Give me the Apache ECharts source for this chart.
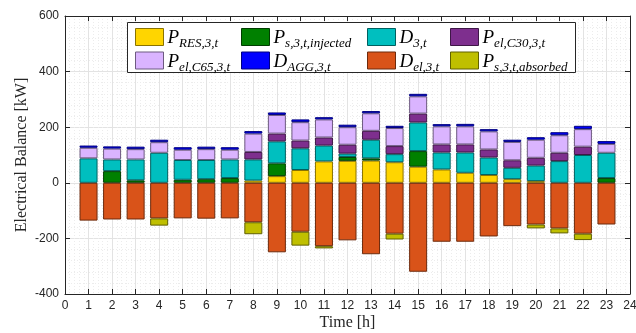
<!DOCTYPE html>
<html>
<head>
<meta charset="utf-8">
<script src="https://cdn.jsdelivr.net/npm/echarts@6/dist/echarts.min.js"></script>
<style>html,body{margin:0;padding:0;background:#fff}#c{width:636px;height:333px}</style>
</head>
<body>
<div id="c"></div>
<script>
const hours = [1,2,3,4,5,6,7,8,9,10,11,12,13,14,15,16,17,18,19,20,21,22,23];
const pRES      = [0,0,0,0,0,0,0,8,24,46,77,79,80,74,58,48,36,28,13,6,0,0,0];
const pSinj     = [0,42,9,0,11,13,17,0,46,0,0,14,8,0,56,0,0,0,0,0,0,0,17];
const d3        = [88,42,75,108,71,69,67,76,79,78,57,12,67,29,103,61,73,63,41,56,78,100,91];
const pC30      = [0,0,0,0,0,0,0,27,28,28,29,32,32,29,32,29,29,29,27,28,30,30,0];
const pC65      = [38,39,37,38,37,39,35,66,67,66,65,63,63,65,62,65,65,65,66,65,63,63,32];
const dAGG      = [8,8,9,9,9,9,9,9,9,10,8,9,8,8,9,8,9,8,8,9,11,12,10];
const dEl       = [-136,-132,-132,-128,-128,-129,-128,-142,-250,-176,-228,-207,-257,-183,-320,-212,-212,-193,-156,-150,-164,-183,-150];
const pSabs     = [0,0,0,-26,0,0,0,-43,0,-50,-8,0,0,-21,0,0,0,0,0,-14,-18,-23,0];
const xTickLabels = ['0','1','2','3','4','5','6','7','8','9','10','11','12','13','14','15','16','17','18','19','20','21','22','23','24'];
const yTicks = [-400,600,200];

const seriesDefs = [
  {name:'RES', vals:pRES, color:'#FFD500', border:'#8a7300', main:'P', sub:'RES,3,t'},
  {name:'SINJ', vals:pSinj, color:'#008000', border:'#003d00', main:'P', sub:'s,3,t,injected'},
  {name:'D3', vals:d3, color:'#00BFBF', border:'#006060', main:'D', sub:'3,t'},
  {name:'C30', vals:pC30, color:'#7E2F8E', border:'#3f1747', main:'P', sub:'el,C30,3,t'},
  {name:'C65', vals:pC65, color:'#DAB4FF', border:'#6d5a80', main:'P', sub:'el,C65,3,t'},
  {name:'AGG', vals:dAGG, color:'#0000FF', border:'#000080', main:'D', sub:'AGG,3,t'},
  {name:'DEL', vals:dEl, color:'#D95319', border:'#6d2a0c', main:'D', sub:'el,3,t'},
  {name:'SABS', vals:pSabs, color:'#BFBF00', border:'#606000', main:'P', sub:'s,3,t,absorbed'}
];

const series = seriesDefs.map(s => {
  const data = xTickLabels.map(() => '-');
  hours.forEach((h,i) => { data[h] = s.vals[i] === 0 ? '-' : s.vals[i]; });
  return {
    name: s.name, type: 'bar', stack: 'total', barWidth: 18,
    xAxisIndex: 2, yAxisIndex: 0,
    itemStyle: {color: s.color, borderColor: s.border, borderWidth: 1},
    emphasis: {disabled: true},
    data: data
  };
});

const legMap = {};
seriesDefs.forEach(s => legMap[s.name] = s);
const rich = {
  m: {fontFamily:'Liberation Serif', fontStyle:'italic', fontSize:19, color:'#000', lineHeight:21, verticalAlign:'bottom'},
  s: {fontFamily:'Liberation Serif', fontStyle:'italic', fontSize:13, color:'#000', lineHeight:21, verticalAlign:'bottom', padding:[0,0,-3,0]}
};
function mkLegend(left, names) {
  return {
    orient: 'vertical', left: left, top: 23,
    icon: 'rect',
    itemWidth: 28, itemHeight: 17, itemGap: 1,
    data: names, selectedMode: false,
    itemStyle: {borderWidth: 1},
    formatter: n => '{m|' + legMap[n].main + '}{s|' + legMap[n].sub + '}',
    textStyle: {rich: rich, padding:[0,0,0,-1]}
  };
}

const chart = echarts.init(document.getElementById('c'), null, {renderer:'canvas'});
const axisCol = '#262626';
const gridCommon = {show:true, lineStyle:{color:'#e3e3e3', width:1}};
chart.setOption({
  animation: false,
  backgroundColor: '#fff',
  grid: {left: 65, right: 6, top: 16, bottom: 39, containLabel: false, outerBoundsMode: 'none'},
  graphic: [{type:'rect', z: 3, shape:{x:127.5, y:22.5, width:448, height:50}, style:{fill:'#fff', stroke:'#262626', lineWidth:1}}],
  legend: [
    mkLegend(130, ['RES','C65']),
    mkLegend(236, ['SINJ','AGG']),
    mkLegend(362, ['D3','DEL']),
    mkLegend(445, ['C30','SABS'])
  ],
  xAxis: [{
    type:'value', min:0, max:24, interval:1,
    name:'Time [h]', nameLocation:'middle', nameGap:21, nameMoveOverlap:false,
    nameTextStyle:{fontFamily:'Liberation Serif', fontSize:16, color:axisCol},
    axisLine:{onZero:false, lineStyle:{color:axisCol}},
    axisTick:{inside:true, length:5, lineStyle:{color:axisCol}},
    axisLabel:{fontFamily:'Liberation Sans', fontSize:12, color:axisCol, margin:6},
    splitLine: gridCommon,
    minorTick:{show:false, splitNumber:5},
    minorSplitLine:{show:true, lineStyle:{color:'#ececec', type:[1,2]}}
  },{
    type:'value', position:'top', min:0, max:24, interval:1,
    axisLine:{onZero:false, lineStyle:{color:axisCol}},
    axisTick:{inside:true, length:5, lineStyle:{color:axisCol}},
    axisLabel:{show:false}, splitLine:{show:false}
  },{
    type:'category', data:xTickLabels, boundaryGap:false, position:'bottom',
    show:false
  }],
  yAxis: [{
    type:'value', min:yTicks[0], max:yTicks[1], interval:yTicks[2],
    name:'Electrical Balance [kW]', nameLocation:'middle', nameGap:35, nameRotate:90, nameMoveOverlap:false,
    nameTextStyle:{fontFamily:'Liberation Serif', fontSize:16, color:axisCol},
    axisLine:{show:true, onZero:false, lineStyle:{color:axisCol}},
    axisTick:{show:true, inside:true, length:5, lineStyle:{color:axisCol}},
    axisLabel:{fontFamily:'Liberation Sans', fontSize:12, color:axisCol, margin:6},
    splitLine: gridCommon,
    minorTick:{show:false, splitNumber:5},
    minorSplitLine:{show:true, lineStyle:{color:'#ececec', type:[1,2]}}
  },{
    type:'value', position:'right', min:yTicks[0], max:yTicks[1], interval:yTicks[2],
    axisLine:{show:true, onZero:false, lineStyle:{color:axisCol}},
    axisTick:{show:true, inside:true, length:5, lineStyle:{color:axisCol}},
    axisLabel:{show:false}, splitLine:{show:false}
  }],
  series: series
});
</script>
</body>
</html>
